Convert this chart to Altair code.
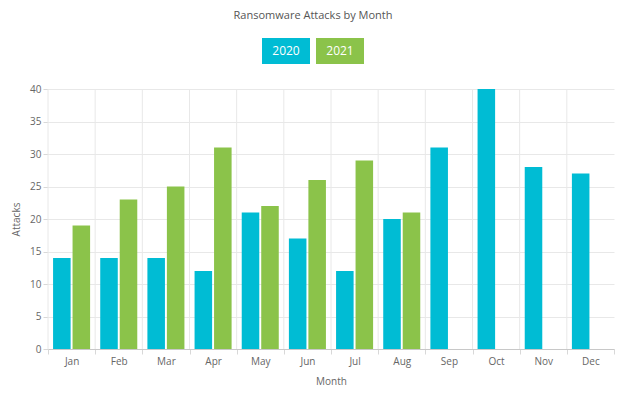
import altair as alt
import pandas as pd

months = ["Jan", "Feb", "Mar", "Apr", "May", "Jun", "Jul", "Aug", "Sep", "Oct", "Nov", "Dec"]
attacks_2020 = [14, 14, 14, 12, 21, 17, 12, 20, 31, 40, 28, 27]
attacks_2021 = [19, 23, 25, 31, 22, 26, 29, 21]
years = ["2020", "2021"]
colors = ["#00bcd4", "#8bc34a"]

rows = []
for m, v in zip(months, attacks_2020):
    rows.append({"Month": m, "Year": "2020", "Attacks": v})
for m, v in zip(months, attacks_2021):
    rows.append({"Month": m, "Year": "2021", "Attacks": v})
df = pd.DataFrame(rows)
legend_df = pd.DataFrame({"Year": years})
month_df = pd.DataFrame({"Month": months})

FONT = "Open Sans"
W, H = 566, 260
color_scale = alt.Scale(domain=years, range=colors)

legend = alt.Chart(legend_df).encode(
    x=alt.X("Year:N", axis=None,
            scale=alt.Scale(range=[214, 316], paddingInner=0.111, paddingOuter=0)),
)
legend = (legend.mark_rect().encode(color=alt.Color("Year:N", scale=color_scale, legend=None))
          + legend.mark_text(color="white", font=FONT, fontSize=12).encode(text="Year:N")
          ).properties(width=W, height=26)

x_scale = alt.Scale(domain=months, paddingInner=0, paddingOuter=0)
x_axis = alt.Axis(labelAngle=0, tickBand="extent", grid=False, titlePadding=10)

grid = alt.Chart(month_df).mark_rule(color="#e8e8e8", strokeWidth=1).encode(
    x=alt.X("Month:N", sort=months, scale=x_scale, bandPosition=0, title="Month", axis=x_axis),
)

bars = alt.Chart(df).mark_bar().encode(
    x=alt.X("Month:N", sort=months, title="Month", scale=x_scale, axis=x_axis),
    xOffset=alt.XOffset("Year:N", scale=alt.Scale(domain=years, paddingInner=0.1, paddingOuter=0.26)),
    y=alt.Y("Attacks:Q", title="Attacks",
            scale=alt.Scale(domain=[0, 40]),
            axis=alt.Axis(values=list(range(0, 41, 5)), domain=False)),
    color=alt.Color("Year:N", scale=color_scale, legend=None),
)

main = alt.layer(grid, bars).properties(width=W, height=H)

chart = alt.vconcat(legend, main, bounds="flush", spacing=25).properties(
    title=alt.TitleParams("Ransomware Attacks by Month", fontSize=11, font=FONT,
                          fontWeight="normal", color="#555555", anchor="middle", offset=17),
    padding={"left": 3, "top": 2, "right": 2, "bottom": 0},
).configure_view(stroke=None).configure_axis(
    labelFont=FONT, titleFont=FONT, labelFontSize=10, titleFontSize=10,
    labelColor="#666666", titleColor="#666666", titleFontWeight="normal",
    gridColor="#e8e8e8", tickColor="#d8d8d8", domainColor="#c8c8c8",
    titlePadding=8,
)

chart.save("out.html", embed_options={"renderer": "svg", "actions": False})
